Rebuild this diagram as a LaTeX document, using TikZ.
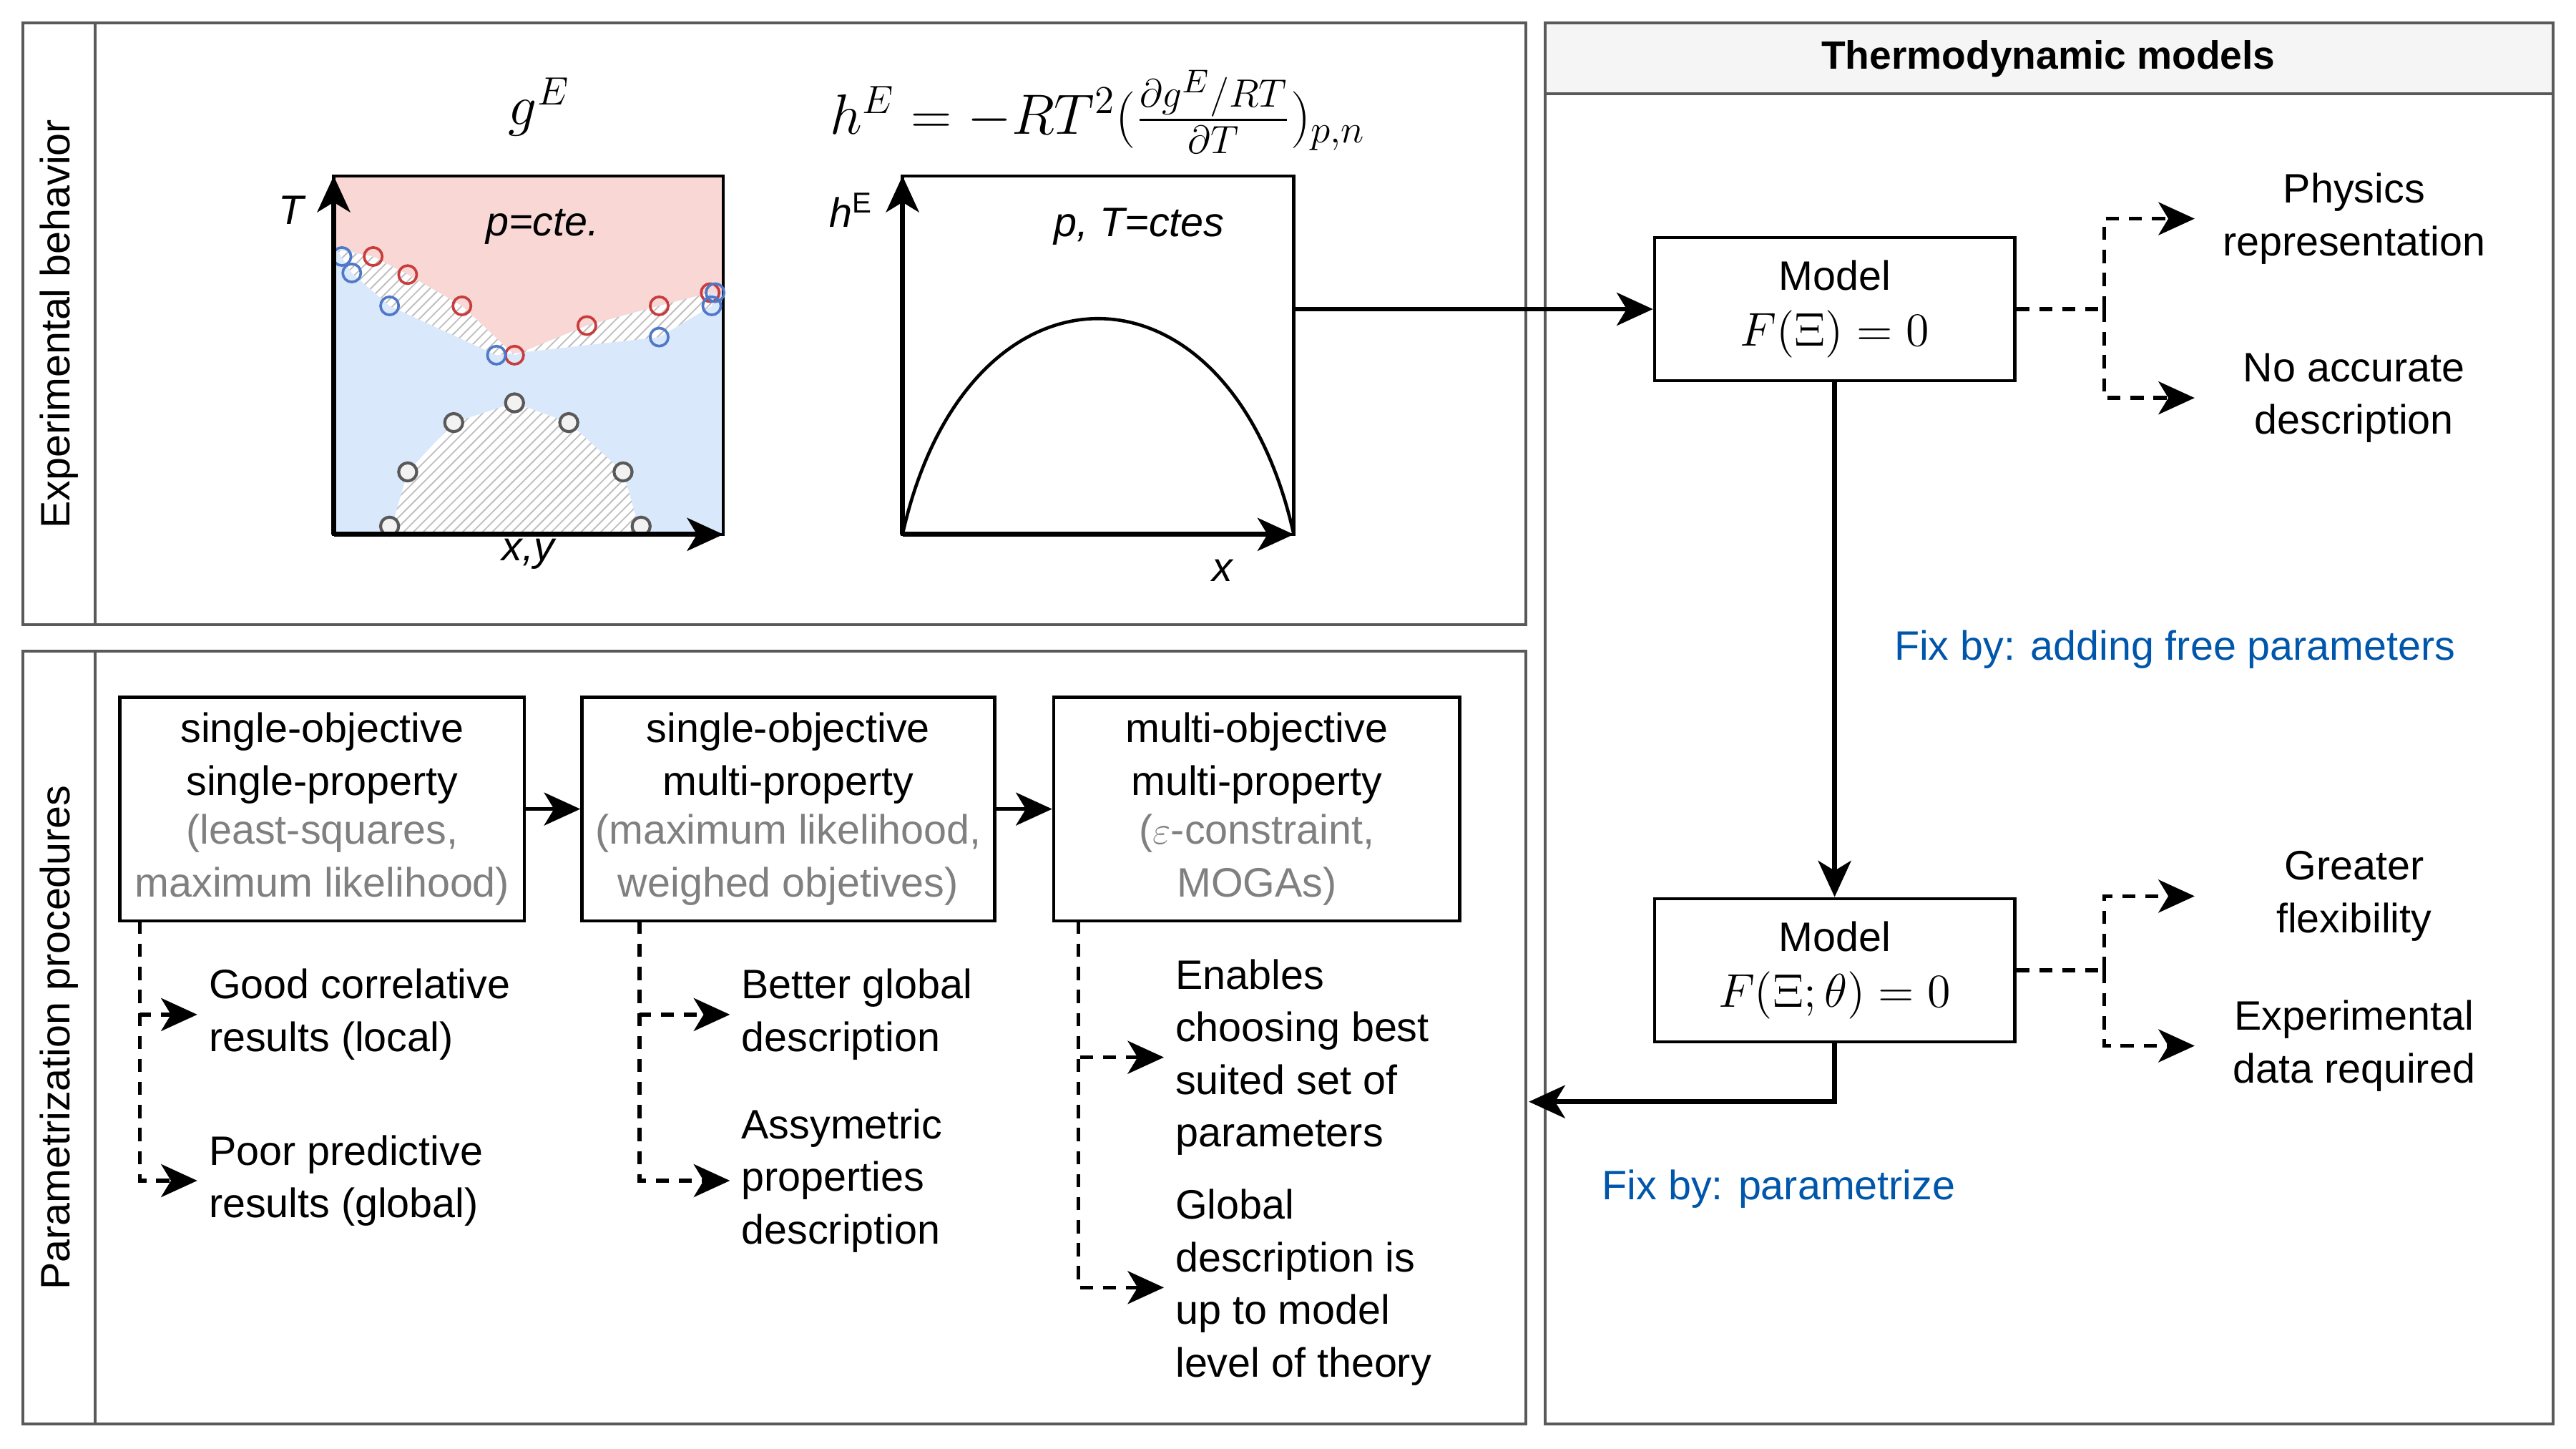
\documentclass[tikz,border=0pt]{standalone}
\usepackage{fontspec}
\setmainfont{Liberation Sans}
\usepackage{amsmath}
\usetikzlibrary{arrows.meta,positioning,patterns}
\definecolor{redf}{RGB}{248,215,213}
\definecolor{bluef}{RGB}{218,232,252}
\definecolor{fixb}{RGB}{0,86,170}
\definecolor{redc}{RGB}{200,60,60}
\definecolor{bluec}{RGB}{80,120,200}
\begin{document}
\begin{tikzpicture}[x=0.5pt,y=-0.5pt, >={Stealth[length=11pt,width=10pt,inset=3pt]}, font=\fontsize{12.5}{16}\selectfont]
\tikzstyle{panel}=[draw=black!65,line width=0.9pt]
\tikzstyle{mbox}=[draw,line width=1pt,minimum width=109.5pt,minimum height=43.5pt,align=center,inner sep=1pt]
\tikzstyle{pbox}=[draw,line width=1pt,minimum height=68pt,align=center,inner sep=1pt]
\tikzstyle{txt}=[align=center]
\tikzstyle{ltxt}=[align=left,anchor=west]
\tikzstyle{dsh}=[dashed,line width=1.2pt,dash pattern=on 4pt off 3pt]
\tikzstyle{arr}=[->,line width=1.5pt]
\tikzstyle{fix}=[text=fixb]
\useasboundingbox (0,0) rectangle (1567,881);
% panels
\draw[panel] (14,14) rectangle (928,380) (58,14) -- (58,380);
\draw[panel] (14,396) rectangle (928,866) (58,396) -- (58,866);
\draw[panel] (940,14) rectangle (1553,866);
\fill[black!4] (941,15) rectangle (1552,57);
\draw[panel] (940,57) -- (1553,57);
\node[rotate=90] (lexp) at (36,197) {Experimental behavior};
\node[rotate=90] (lpar) at (36,631) {Parametrization procedures};
\node[font=\fontsize{12}{14}\selectfont\bfseries] (lthe) at (1246,36) {Thermodynamic models};
% plot g^E
\fill[bluef] (203,107) rectangle (440,325);
\fill[redf] (203,107) -- (440,107) -- (440,178) -- (432,178) -- (401,186) -- (357,198) -- (313,216)
  -- (281,186) -- (248,167) -- (227,156) -- (203,150) -- cycle;
\fill[white] (205,152) -- (227,156) -- (248,167) -- (281,186) -- (313,216) -- (357,198) -- (401,186) -- (432,178)
  -- (433,186) -- (401,205) -- (302,216) -- (237,186) -- (214,166) -- cycle;
\fill[pattern=north east lines,pattern color=black!25] (205,152) -- (227,156) -- (248,167) -- (281,186) -- (313,216) -- (357,198) -- (401,186) -- (432,178)
  -- (433,186) -- (401,205) -- (302,216) -- (237,186) -- (214,166) -- cycle;
\fill[white] (237,325) -- (248,287) -- (276,257) -- (313,245) -- (346,257) -- (379,287) -- (390,325) -- cycle;
\fill[pattern=north east lines,pattern color=black!25] (237,325) -- (248,287) -- (276,257) -- (313,245) -- (346,257) -- (379,287) -- (390,325) -- cycle;
\draw[line width=1pt] (203,107) rectangle (440,325);
\foreach \px/\py in {227/156,248/167,281/186,313/216,357/198,401/186,432/178}
  \draw[redc,line width=0.8pt] (\px,\py) circle (5.5);
\foreach \px/\py in {208/156,214/166,237/186,302/216,401/205,433/186,435/178}
  \draw[bluec,line width=0.8pt] (\px,\py) circle (5.5);
\foreach \px/\py in {237/320,248/287,276/257,313/245,346/257,379/287,390/320}
  \draw[black!65,fill=black!5,line width=0.9pt] (\px,\py) circle (5.5);
\coordinate (o1) at (203,325);
\coordinate (t1) at (203,107);
\coordinate (x1) at (440,325);
\draw[arr] (o1) -- (t1);
\draw[arr] (o1) -- (x1);
\node (tl) at (178,128) {\textit{T}};
\node (xyl) at (322,337) {\textit{x,y}};
\node (pcte) at (330,138) {\textit{p=cte.}};
\node (gE) at (328,65) {\LARGE $g^E$};
% plot h^E
\draw[line width=1pt] (549,107) rectangle (787,325);
\coordinate (o2) at (549,325);
\coordinate (t2) at (549,107);
\coordinate (x2) at (787,325);
\draw[arr] (o2) -- (t2);
\draw[arr] (o2) -- (x2);
\draw[line width=1pt] (o2) .. controls (588,150) and (748,150) .. (x2);
\node (hl) at (518,128) {\textit{h}$^{\text{E}}$};
\node (pT) at (693,138) {\textit{p, T=ctes}};
\node (xl) at (744,347) {\textit{x}};
\node (hE) at (668,68) {\LARGE $h^E=-RT^2(\frac{\partial g^E/RT}{\partial T})_{p,n}$};
% models
\node[mbox] (m1) at (1116,188) {Model\\[1pt] \Large$F(\Xi)=0$};
\node[mbox] (m2) at (1116,590) {Model\\[1pt] \Large$F(\Xi;\theta)=0$};
\coordinate (hout) at (787,188);
\draw[arr] (hout) -- (m1.west);
\draw[arr] (m1.south) -- (m2.north);
\node[fix] (fix1) at (1323,395) {Fix by: adding free parameters};
\coordinate (back) at (930,670);
\draw[arr] (m2.south) |- (back);
\node[fix] (fix2) at (1082,723) {Fix by: parametrize};
\node[txt] (phys) at (1432,133) {Physics\\representation};
\node[txt] (noacc) at (1432,242) {No accurate\\description};
\node[txt] (flex) at (1432,545) {Greater\\flexibility};
\node[txt] (expd) at (1432,636) {Experimental\\data required};
\coordinate (j1) at (1280,188);
\coordinate (j2) at (1280,590);
\draw[dsh] (m1.east) -- (j1);
\draw[dsh,->] (j1) |- (1335,133);
\draw[dsh,->] (j1) |- (1335,242);
\draw[dsh] (m2.east) -- (j2);
\draw[dsh,->] (j2) |- (1335,545);
\draw[dsh,->] (j2) |- (1335,636);
% procedures
\node[pbox,minimum width=123pt] (pa) at (196,492) {single-objective\\single-property\\[-1pt]{\color{black!50}(least-squares,}\\{\color{black!50}maximum likelihood)}};
\node[pbox,minimum width=125.5pt] (pb) at (479.5,492) {single-objective\\multi-property\\[-1pt]{\color{black!50}(maximum likelihood,}\\{\color{black!50}weighed objetives)}};
\node[pbox,minimum width=123.5pt] (pc) at (764.5,492) {multi-objective\\multi-property\\[-1pt]{\color{black!50}($\varepsilon$-constraint,}\\{\color{black!50}MOGAs)}};
\draw[arr,line width=1.2pt] (pa) -- (pb);
\draw[arr,line width=1.2pt] (pb) -- (pc);
\node[ltxt] (a1) at (120,617) {Good correlative\\results (local)};
\node[ltxt] (a2) at (120,718) {Poor predictive\\results (global)};
\node[ltxt] (b1) at (444,617) {Better global\\description};
\node[ltxt] (b2) at (444,718) {Assymetric\\properties\\description};
\node[ltxt] (c1) at (708,643) {Enables\\choosing best\\suited set of\\parameters};
\node[ltxt] (c2) at (708,783) {Global\\description is\\up to model\\level of theory};
\draw[dsh,->] (85,560) |- (a1.west);
\draw[dsh,->] (85,560) |- (a2.west);
\draw[dsh,->] (389,560) |- (b1.west);
\draw[dsh,->] (389,560) |- (b2.west);
\draw[dsh,->] (656,560) |- (c1.west);
\draw[dsh,->] (656,560) |- (c2.west);
\end{tikzpicture}
\end{document}
